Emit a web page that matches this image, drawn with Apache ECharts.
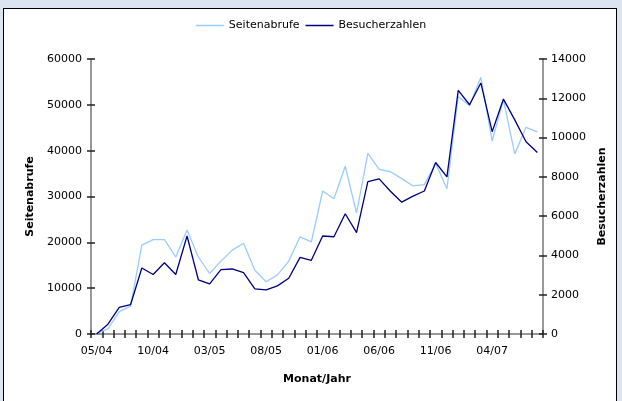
<!DOCTYPE html>
<html>
<head>
<meta charset="utf-8">
<script src="https://cdn.jsdelivr.net/npm/echarts@6/dist/echarts.min.js"></script>
<style>
  html, body { margin: 0; padding: 0; background: #dbe5f1; }
  #panel { position: absolute; left: 3px; top: 8px; width: 612px; height: 400px; background: #fff; border: 1.5px solid #000; }
  #chart { position: absolute; left: 0; top: 0; width: 622px; height: 401px; }
</style>
</head>
<body>
<div id="panel"></div>
<div id="chart"></div>
<script>
const months = [
  '05/04', '06/04', '07/04', '08/04', '09/04', '10/04', '11/04', '12/04',
  '01/05', '02/05', '03/05', '04/05', '05/05', '06/05', '07/05', '08/05',
  '09/05', '10/05', '11/05', '12/05', '01/06', '02/06', '03/06', '04/06',
  '05/06', '06/06', '07/06', '08/06', '09/06', '10/06', '11/06', '12/06',
  '01/07', '02/07', '03/07', '04/07', '05/07', '06/07', '07/07', '08/07'
]

// Seitenabrufe (linke Achse)
const seitenabrufe = [
  200, 1100, 4900, 6100, 19400, 20600, 20600, 16800, 22700, 16800,
  13200, 15900, 18300, 19800, 13900, 11400, 12900, 15900, 21200, 20100,
  31200, 29500, 36600, 26400, 39400, 35900, 35400, 33900, 32300, 32600,
  37200, 31700, 51800, 49800, 56000, 42100, 51100, 39300, 45100, 44100
]

// Besucherzahlen (rechte Achse)
const besucher = [
  0, 500, 1350, 1490, 3360, 3030, 3630, 3030, 4990, 2760,
  2550, 3280, 3310, 3130, 2300, 2250, 2450, 2840, 3900, 3750,
  4990, 4950, 6120, 5160, 7760, 7900, 7270, 6710, 7020, 7280,
  8730, 8000, 12400, 11670, 12780, 10300, 11960, 10900, 9790, 9240
]

const font = 'DejaVu Sans'
const axisGrey = '#777'
const tickColor = '#222'

// ticks cross the axis: one axis draws them outside, a twin draws them inside
const chart = echarts.init(document.getElementById('chart'))
chart.setOption({
  animation: false,
  textStyle: { fontFamily: font },
  legend: {
    top: 15, left: 'center', itemWidth: 28, itemHeight: 1.5, itemGap: 6, icon: 'rect',
    textStyle: { fontFamily: font, fontSize: 11, color: '#000' },
    data: ['Seitenabrufe', 'Besucherzahlen']
  },
  grid: { left: 91, right: 79, top: 59, bottom: 67 },
  xAxis: [{
    type: 'category', data: months,
    name: 'Monat/Jahr', nameLocation: 'middle', nameGap: 40,
    nameTextStyle: { fontFamily: font, fontSize: 11, fontWeight: 'bold', color: '#000' },
    axisLine: { show: true, lineStyle: { color: axisGrey, width: 1.5 } },
    axisTick: { show: true, interval: 0, length: 4, lineStyle: { color: tickColor, width: 1.5 } },
    axisLabel: { interval: 4, margin: 12, fontSize: 11, color: '#000' }
  }, {
    type: 'category', data: months, position: 'bottom',
    axisLine: { show: false },
    axisTick: { show: true, inside: true, interval: 0, length: 4, lineStyle: { color: tickColor, width: 1.5 } },
    axisLabel: { show: false }
  }],
  yAxis: [{
    type: 'value', min: 0, max: 60000, interval: 10000,
    name: 'Seitenabrufe', nameLocation: 'middle', nameGap: 53,
    nameTextStyle: { fontFamily: font, fontSize: 11, fontWeight: 'bold', color: '#000' },
    splitLine: { show: false },
    axisLine: { show: true, lineStyle: { color: axisGrey, width: 1.5 } },
    axisTick: { show: true, length: 4, lineStyle: { color: tickColor, width: 1.5 } },
    axisLabel: { margin: 9, fontSize: 11, color: '#000', formatter: v => String(v) }
  }, {
    type: 'value', min: 0, max: 14000, interval: 2000, position: 'right',
    name: 'Besucherzahlen', nameLocation: 'middle', nameGap: 54, nameRotate: 90,
    nameTextStyle: { fontFamily: font, fontSize: 11, fontWeight: 'bold', color: '#000' },
    splitLine: { show: false },
    axisLine: { show: true, lineStyle: { color: axisGrey, width: 1.5 } },
    axisTick: { show: true, length: 4, lineStyle: { color: tickColor, width: 1.5 } },
    axisLabel: { margin: 8, fontSize: 11, color: '#000', formatter: v => String(v) }
  }, {
    type: 'value', min: 0, max: 60000, interval: 10000, position: 'left',
    splitLine: { show: false }, axisLine: { show: false },
    axisTick: { show: true, inside: true, length: 4, lineStyle: { color: tickColor, width: 1.5 } },
    axisLabel: { show: false }
  }, {
    type: 'value', min: 0, max: 14000, interval: 2000, position: 'right',
    splitLine: { show: false }, axisLine: { show: false },
    axisTick: { show: true, inside: true, length: 4, lineStyle: { color: tickColor, width: 1.5 } },
    axisLabel: { show: false }
  }],
  series: [{
    name: 'Seitenabrufe', type: 'line', yAxisIndex: 0, data: seitenabrufe, showSymbol: false,
    color: '#99ccff', lineStyle: { width: 1.3, color: '#99ccff' }
  }, {
    name: 'Besucherzahlen', type: 'line', yAxisIndex: 1, data: besucher, showSymbol: false,
    color: '#000080', lineStyle: { width: 1.3, color: '#000080' }
  }]
})
</script>
</body>
</html>
